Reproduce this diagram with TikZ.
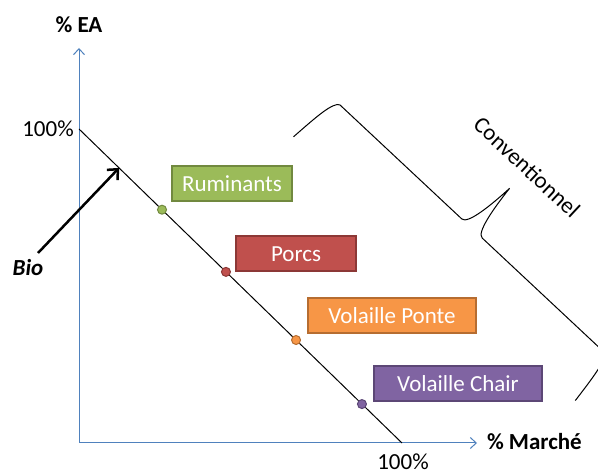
\documentclass[tikz,border=0pt]{standalone}
\usepackage{fontspec}
\setmainfont{Carlito}
\usetikzlibrary{arrows.meta, calc}

\definecolor{axisblue}{HTML}{4F81BD}
\definecolor{rumfill}{HTML}{9BBB59}
\definecolor{rumdraw}{HTML}{71893F}
\definecolor{porfill}{HTML}{C0504D}
\definecolor{pordraw}{HTML}{8C3836}
\definecolor{ponfill}{HTML}{F79646}
\definecolor{pondraw}{HTML}{B66D31}
\definecolor{chafill}{HTML}{8064A2}
\definecolor{chadraw}{HTML}{5C4776}

\begin{document}
\begin{tikzpicture}[x=1pt, y=-1pt]
\tikzset{ >={Straight Barb[length=6pt,width=11pt]}, inner sep=0pt, outer sep=0pt,
  lbl/.style={font=\fontsize{23}{27}\selectfont},
  blbl/.style={font=\fontsize{23}{27}\selectfont\bfseries},
  catbox/.style={draw, line width=2pt, text=white, minimum height=35pt,
                 font=\fontsize{23}{27}\selectfont},
  dot/.style={circle, draw, line width=1pt, minimum size=9pt},
}

\useasboundingbox (0,0) rectangle (598,473);
\clip (0,0) rectangle (598,473);

%\draw [lightgray, dashed](0,0) grid[step=50] (598,473);

\coordinate (O)  at (79,443);
\coordinate (Y)  at (79,48);
\coordinate (X)  at (477,443);
\coordinate (A)  at (79,129);
\coordinate (B)  at (402,443);

% axes
\draw [->, axisblue, line width=1pt] (O) -- (Y);
\draw [->, axisblue, line width=1pt] (O) -- (X);

% market line
\draw [line width=1pt] (A) -- (B);

\node [blbl] (EA)  at (79,25)  {\% EA};
\node [lbl]  (Yc)  at (48,129) {100\%};
\node [blbl, anchor=west] (MA) at (487,442) {\% Marché};
\node [lbl]  (Xc)  at (403,462) {100\%};

% productions
\node [dot, fill=rumfill, draw=rumdraw] (Rd) at ($(A)!0.257!(B)$) {};
\node [dot, fill=porfill, draw=pordraw] (Pd) at ($(A)!0.455!(B)$) {};
\node [dot, fill=ponfill, draw=pondraw] (VPd) at ($(A)!0.672!(B)$) {};
\node [dot, fill=chafill, draw=chadraw] (VCd) at ($(A)!0.876!(B)$) {};

\node [catbox, fill=rumfill, draw=rumdraw, minimum width=120pt] (R)  at (232,183.5) {Ruminants};
\node [catbox, fill=porfill, draw=pordraw, minimum width=120pt] (P)  at (296,254)   {Porcs};
\node [catbox, fill=ponfill, draw=pondraw, minimum width=168pt] (VP) at (392,315.5) {Volaille Ponte};
\node [catbox, fill=chafill, draw=chadraw, minimum width=168pt] (VC) at (458,383.5) {Volaille Chair};

% bio
\node [font=\fontsize{23}{27}\selectfont\bfseries\itshape] (Bio) at (28,268) {Bio};
\coordinate (biotail) at (38,253);
\coordinate (biotip)  at ($(A)!0.124!(B)$);
\draw [-{Straight Barb[length=8pt,width=15pt]}, line width=2.5pt] (biotail) -- (biotip);

% brace
\begin{scope}[shift={(472,228.5)}, rotate=-43.1]
\draw [line width=1pt] (-193,55) .. controls (-190,25) and (-188,3) .. (-181,0)
  -- (-14,0) .. controls (-6,0) and (-2,-30) .. (0,-55)
  .. controls (2,-30) and (6,0) .. (14,0)
  -- (181,0) .. controls (188,3) and (190,25) .. (193,55);
\end{scope}
\node [lbl, rotate=-43] (Conv) at (527,167) {Conventionnel};

\end{tikzpicture}
\end{document}
